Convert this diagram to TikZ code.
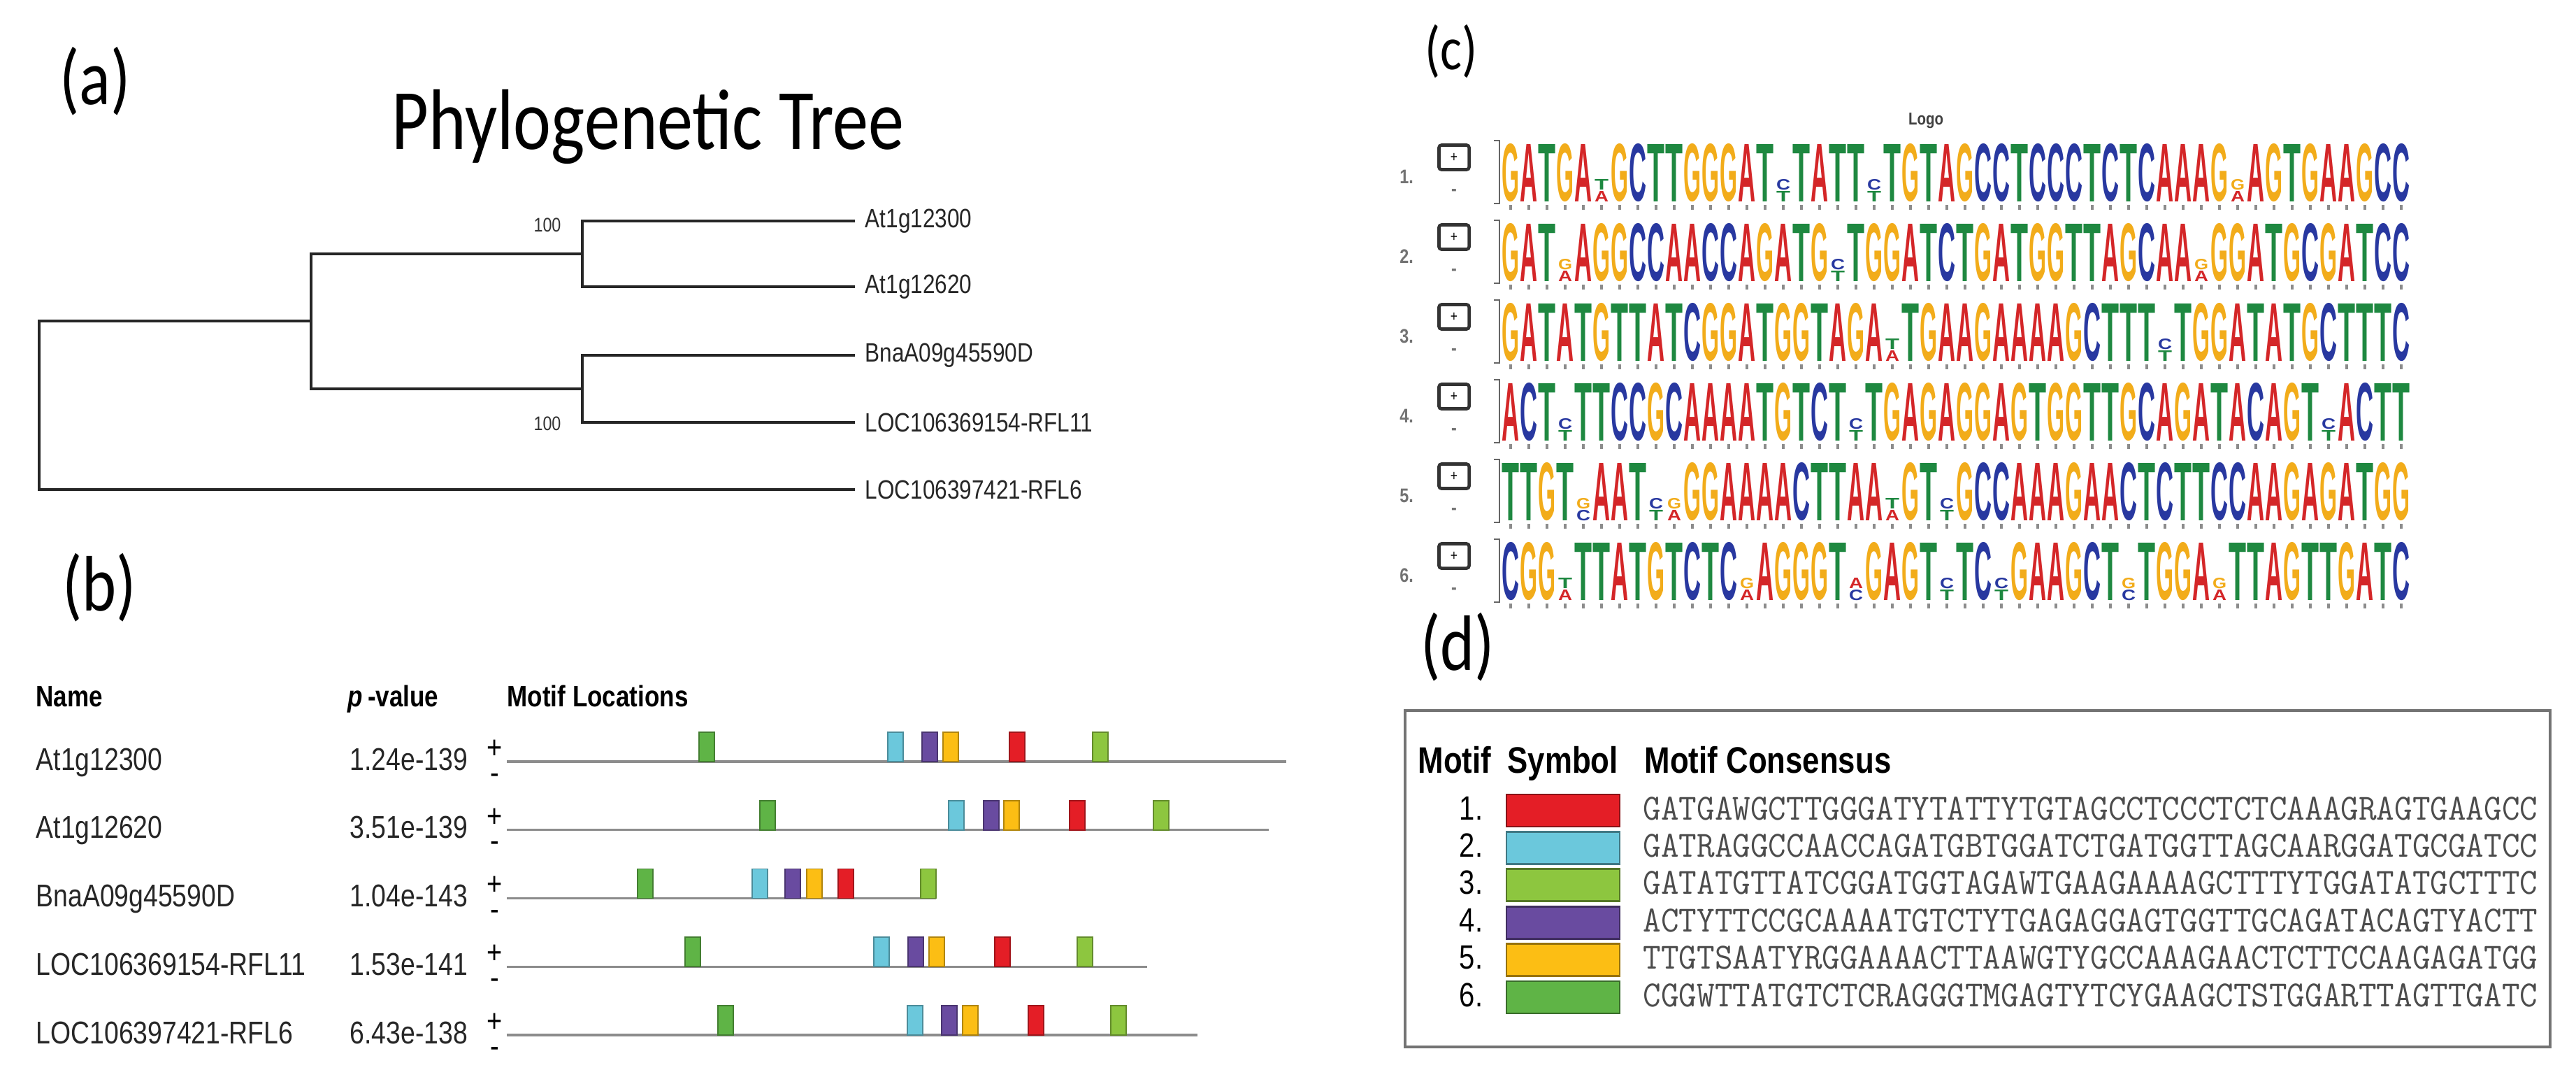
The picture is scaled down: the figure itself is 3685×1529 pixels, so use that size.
\documentclass[tikz,border=0pt]{standalone}
\usepackage{fontspec}
\setmainfont{Liberation Sans}[FakeStretch=0.83]
\newfontfamily\calib{Carlito}[FakeStretch=0.83]
\usetikzlibrary{positioning}

\definecolor{mred}{RGB}{228,30,38}
\definecolor{mcyan}{RGB}{107,200,220}
\definecolor{mlime}{RGB}{141,198,63}
\definecolor{mpurple}{RGB}{105,75,160}
\definecolor{myellow}{RGB}{252,190,20}
\definecolor{mgreen}{RGB}{95,180,70}
\definecolor{baseA}{RGB}{212,38,40}
\definecolor{baseC}{RGB}{40,56,160}
\definecolor{baseG}{RGB}{242,172,26}
\definecolor{baseT}{RGB}{30,136,64}

% motif consensus sequences
\newcommand\motifA{GATGAWGCTTGGGATYTATTYTGTAGCCTCCCTCTCAAAGRAGTGAAGCC}
\newcommand\motifB{GATRAGGCCAACCAGATGBTGGATCTGATGGTTAGCAARGGATGCGATCC}
\newcommand\motifC{GATATGTTATCGGATGGTAGAWTGAAGAAAAGCTTTYTGGATATGCTTTC}
\newcommand\motifD{ACTYTTCCGCAAAATGTCTYTGAGAGGAGTGGTTGCAGATACAGTYACTT}
\newcommand\motifE{TTGTSAATYRGGAAAACTTAAWGTYGCCAAAGAACTCTTCCAAGAGATGG}
\newcommand\motifF{CGGWTTATGTCTCRAGGGTMGAGTYTCYGAAGCTSTGGARTTAGTTGATC}

% sequence logo, one letter after the other
\newcount\logoidx
\newcommand\logorow[2]{%
  \pgfmathsetmacro\logoy{289+114*(#1-1)}%
  \def\logorowno{#1}%
  \global\logoidx=0
  \edef\logoseq{#2}%
  \expandafter\logoscan\logoseq\relax}
\def\logoscan#1{%
  \ifx#1\relax\let\logonext\relax
  \else\def\logonext{\logoglyph{#1}\global\advance\logoidx by 1 \logoscan}\fi
  \logonext}
\newcommand\logoglyph[1]{%
  \pgfmathsetmacro\logox{2148+26*\the\logoidx}%
  \csname glyph#1\endcsname
  \fill[black!45] (\logox+11,\logoy+4) rectangle (\logox+15,\logoy+11);}
\newcommand\fullbase[2]{%
  \node[logobase] (L\logorowno-\the\logoidx) at (\logox+13,\logoy)
    {\resizebox{0.25cm}{0.82cm}{\color{#2}#1}};}
\newcommand\pairbase[4]{%
  \node[logobase] (L\logorowno-\the\logoidx b) at (\logox+13,\logoy)
    {\resizebox{0.2cm}{0.15cm}{\color{#4}#3}};
  \node[logobase] (L\logorowno-\the\logoidx t) at (\logox+13,\logoy-17)
    {\resizebox{0.2cm}{0.15cm}{\color{#2}#1}};}
\newcommand\glyphA{\fullbase{A}{baseA}}
\newcommand\glyphC{\fullbase{C}{baseC}}
\newcommand\glyphG{\fullbase{G}{baseG}}
\newcommand\glyphT{\fullbase{T}{baseT}}
\newcommand\glyphW{\pairbase{T}{baseT}{A}{baseA}}
\newcommand\glyphY{\pairbase{C}{baseC}{T}{baseT}}
\newcommand\glyphR{\pairbase{G}{baseG}{A}{baseA}}
\newcommand\glyphS{\pairbase{G}{baseG}{C}{baseC}}
\newcommand\glyphM{\pairbase{A}{baseA}{C}{baseC}}
\newcommand\glyphB{\pairbase{C}{baseC}{T}{baseT}}

\begin{document}
\begin{tikzpicture}[x=0.01cm,y=-0.01cm,
  panel/.style={font=\calib\fontsize{32}{36}\selectfont,inner sep=0},
  title/.style={font=\calib\fontsize{35}{40}\selectfont,inner sep=0,anchor=base west},
  branch/.style={draw=black!85,line width=1pt},
  leaf/.style={font=\fontsize{10.8}{12}\selectfont,text=black!85,inner sep=0},
  boot/.style={font=\fontsize{8}{9}\selectfont,text=black!80,inner sep=0},
  colhead/.style={font=\bfseries\fontsize{12}{14}\selectfont,inner sep=0,anchor=base west},
  gene/.style={font=\fontsize{12.8}{14}\selectfont,text=black!85,inner sep=0,anchor=base west},
  strand/.style={font=\fontsize{13}{10.2}\selectfont,inner sep=0,align=center},
  seqline/.style={draw=black!45,line width=0.9pt},
  motifbox/.style={fill=#1,draw=#1!70!black,line width=0.5pt},
  logobase/.style={font=\bfseries,inner sep=0,anchor=south},
  logohead/.style={font=\bfseries\fontsize{7}{8}\selectfont,text=black!75,inner sep=0},
  rownum/.style={font=\bfseries\fontsize{8}{9}\selectfont,text=black!55,inner sep=0},
  button/.style={draw=black!80,line width=1.3pt,rounded corners=1pt,minimum width=0.43cm,
    minimum height=0.35cm,inner sep=0,font=\fontsize{6}{6}\selectfont},
  dframe/.style={draw=black!55,line width=1.2pt},
  dhead/.style={font=\bfseries\fontsize{15}{17}\selectfont,inner sep=0,anchor=base west},
  dnum/.style={font=\fontsize{13.7}{15}\selectfont,inner sep=0,anchor=base east},
  swatch/.style={fill=#1,draw=#1!60!black,line width=0.8pt,minimum width=1.62cm,
    minimum height=0.46cm,inner sep=0},
  cons/.style={font=\ttfamily\fontsize{15}{16}\selectfont,text=black!70,inner sep=0,anchor=base west}]

\fill[white] (0,0) rectangle (3685,1529);

% (a) tree
\node[panel] (pa) at (136,116) {(a)};
\node[title] (ttl) at (560,213) {Phylogenetic Tree};
\coordinate (n0) at (56,580);
\coordinate (n1) at (445,459);
\coordinate (n2) at (833,363);
\coordinate (n3) at (833,556);
\foreach \i/\y in {1/316,2/410,3/508,4/604,5/700}
  \coordinate (e\i) at (1223,\y);
\foreach \from/\to in {n0/n1,n0/e5,n1/n2,n1/n3,n2/e1,n2/e2,n3/e3,n3/e4}
  \draw[branch] (\from) |- (\to);
\foreach \i/\txt in {1/At1g12300,2/At1g12620,3/BnaA09g45590D,4/LOC106369154-RFL11,5/LOC106397421-RFL6}
  \node[leaf,right=4pt of e\i] (t\i) {\txt};
\node[boot] (bs1) at (783,322) {100};
\node[boot] (bs2) at (783,606) {100};

% (b) motif locations
\node[panel] (pb) at (142,840) {(b)};
\node[colhead] (hname) at (51,1010) {Name};
\node[colhead] (hpval) at (497,1010) {{\itshape p}\,-value};
\node[colhead] (hloc) at (725,1010) {Motif Locations};
\foreach \nm/\pv/\en/\xg/\xc/\xp/\xo/\xr/\xl [count=\i] in {
    At1g12300/1.24e-139/1840/1011/1281/1330/1360/1455/1574,
    At1g12620/3.51e-139/1815/1098/1368/1418/1447/1541/1661,
    BnaA09g45590D/1.04e-143/1339/923/1087/1134/1165/1210/1328,
    LOC106369154-RFL11/1.53e-141/1641/991/1261/1310/1340/1434/1552,
    LOC106397421-RFL6/6.43e-138/1713/1038/1309/1358/1388/1482/1600}{
  \pgfmathsetmacro\ly{1089+97.75*(\i-1)}
  \coordinate (s\i) at (725,\ly);
  \coordinate (f\i) at (\en,\ly);
  \draw[seqline] (s\i) -- (f\i);
  \node[gene] (g\i) at (51,\ly+12) {\nm};
  \node[gene] (p\i) at (500,\ly+12) {\pv};
  \node[strand] (str\i) at (708,\ly) {+\\-};
  \foreach \cx/\col in {\xg/mgreen,\xc/mcyan,\xp/mpurple,\xo/myellow,\xr/mred,\xl/mlime}
    \draw[motifbox=\col] (\cx-11,\ly) rectangle (\cx+11,\ly-42);
}

% (c) logos
\node[panel,font=\calib\fontsize{25}{28}\selectfont] (pc) at (2076,73) {(c)};
\node[logohead] (lg) at (2755,173) {Logo};
\foreach \r in {1,...,6}{
  \pgfmathsetmacro\rt{205+114*(\r-1)}
  \node[rownum] (num\r) at (2012,\rt+48) {\r.};
  \node[button] (btn\r) at (2080,\rt+20) {+};
  \node[rownum] (dash\r) at (2080,\rt+70) {-};
  \draw[black!60,line width=0.6pt] (2137,\rt-4) -- (2145,\rt-4) -- (2145,\rt+86) -- (2137,\rt+86);
}
\foreach \seq [count=\r] in {\motifA,\motifB,\motifC,\motifD,\motifE,\motifF}{
  \logorow{\r}{\seq}
}

% (d) legend
\node[panel] (pd) at (2085,925) {(d)};
\draw[dframe] (2010,1016) rectangle (3648,1497);
\node[dhead] (dh1) at (2028,1105) {Motif};
\node[dhead] (dh2) at (2156,1105) {Symbol};
\node[dhead] (dh3) at (2352,1105) {Motif Consensus};
\foreach \seq/\col [count=\i] in {\motifA/mred,\motifB/mcyan,\motifC/mlime,\motifD/mpurple,\motifE/myellow,\motifF/mgreen}{
  \pgfmathsetmacro\cy{1159+53.4*(\i-1)}
  \node[dnum] (dn\i) at (2122,\cy+13) {\i.};
  \node[swatch=\col] (sw\i) at (2236,\cy) {};
  \node[cons] (cs\i) at (2350,\cy+13) {\scalebox{0.942}[1]{\seq}};
}
\end{tikzpicture}
\end{document}
